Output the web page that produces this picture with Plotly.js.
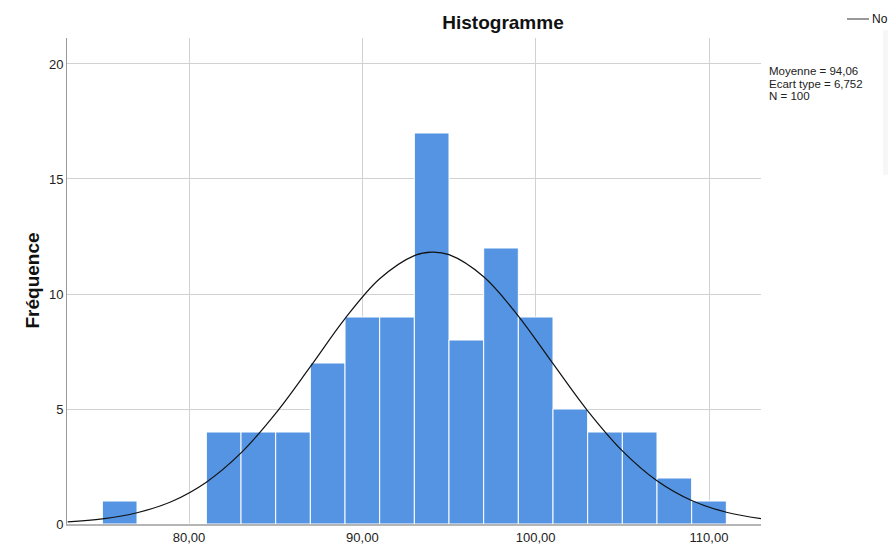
<!DOCTYPE html>
<html>
<head>
<meta charset="utf-8">
<script src="https://cdn.plot.ly/plotly-3.0.1.min.js"></script>
<style>
  html, body { margin: 0; padding: 0; background: #fff; }
  #chart { width: 888px; height: 550px; }
</style>
</head>
<body>
<div id="chart"></div>
<script>
// Histogram bins (centres, width 2) and counts
const binCenters = [76, 78, 80, 82, 84, 86, 88, 90, 92, 94, 96, 98, 100, 102, 104, 106, 108, 110];
const binCounts  = [1, 0, 0, 4, 4, 4, 7, 9, 9, 17, 8, 12, 9, 5, 4, 4, 2, 1];

// Normal curve
const curveX = [73, 75, 77, 79, 81, 83, 85, 87, 89, 91, 93, 94, 95, 97, 99, 101, 103, 105, 107, 109, 111, 113];
const curveY = [0.09, 0.22, 0.49, 0.98, 1.82, 3.09, 4.81, 6.84, 8.93, 10.66, 11.67, 11.82, 11.71, 10.75, 9.04, 6.97, 4.92, 3.18, 1.88, 1.02, 0.51, 0.23];

// Texts
const chartTitle = "Histogramme";
const yTitle = "Fréquence";
const statsLines = ["Moyenne = 94,06", "Ecart type = 6,752", "N = 100"];
const legendLabel = "No";   // legend label as visible (cut by the image edge in the reference)
const xTicks = [80, 90, 100, 110];
const yTicks = [0, 5, 10, 15, 20];

const W = 888, H = 550;
const M = {l: 67, r: 127, t: 38, b: 26};
const PW = W - M.l - M.r, PH = H - M.t - M.b;
const px = x => (x - M.l) / PW;
const py = y => (H - M.b - y) / PH;

const FONT = "Liberation Sans, Arial, Helvetica, sans-serif";

const traces = [
  {
    type: "bar",
    x: binCenters,
    y: binCounts,
    width: 2,
    marker: { color: "rgb(84,148,226)", line: { color: "#ffffff", width: 1 } },
    hoverinfo: "skip",
    showlegend: false
  },
  {
    type: "scatter",
    mode: "lines",
    x: curveX,
    y: curveY,
    line: { color: "#111111", width: 1.2, shape: "spline", smoothing: 1 },
    name: "Normale",
    hoverinfo: "skip",
    showlegend: false
  }
];

const annotations = [
  {
    text: "<b>" + yTitle + "</b>",
    xref: "paper", yref: "paper",
    x: px(19), y: py(280),
    textangle: -90, showarrow: false,
    font: { family: FONT, size: 19, color: "#111" }
  },
  {
    text: legendLabel,
    xref: "paper", yref: "paper",
    x: px(870), y: py(19),
    xanchor: "left", yanchor: "middle", showarrow: false,
    font: { family: FONT, size: 12, color: "#111" }
  }
];
const statsY = [71, 83.5, 96];
statsLines.forEach((t, i) => {
  annotations.push({
    text: t,
    xref: "paper", yref: "paper",
    x: px(767), y: py(statsY[i]),
    xanchor: "left", yanchor: "middle", showarrow: false,
    font: { family: FONT, size: 11.5, color: "#222" }
  });
});

const shapes = [
  {
    type: "rect", xref: "paper", yref: "paper",
    x0: px(883), x1: px(889), y0: py(30), y1: py(175),
    fillcolor: "#f7f7f7", line: { width: 0 }, layer: "below"
  },
  {
    type: "line", xref: "paper", yref: "paper",
    x0: px(847), x1: px(869), y0: py(19), y1: py(19),
    line: { color: "#555555", width: 1.2 }
  }
];

const layout = {
  width: W, height: H,
  margin: M,
  paper_bgcolor: "#ffffff",
  plot_bgcolor: "#ffffff",
  separators: ", ",
  bargap: 0,
  showlegend: false,
  title: {
    text: "<b>" + chartTitle + "</b>",
    x: 503 / W, xref: "container", xanchor: "center",
    y: 1 - 22 / H, yref: "container", yanchor: "middle",
    font: { family: FONT, size: 19, color: "#111" }
  },
  xaxis: {
    range: [72.96, 113.0],
    tickvals: xTicks,
    tickformat: ".2f",
    showgrid: true, gridcolor: "#d2d2d2", gridwidth: 1,
    zeroline: false,
    showline: true, linecolor: "#b5b5b5", linewidth: 2,
    ticks: "",
    tickfont: { family: FONT, size: 13, color: "#222" },
    fixedrange: true
  },
  yaxis: {
    range: [0, 21.13],
    tickvals: yTicks,
    showgrid: true, gridcolor: "#d2d2d2", gridwidth: 1,
    zeroline: false,
    showline: true, linecolor: "#999999", linewidth: 1,
    ticks: "",
    tickfont: { family: FONT, size: 13, color: "#222" },
    fixedrange: true
  },
  annotations: annotations,
  shapes: shapes
};

Plotly.newPlot("chart", traces, layout, { staticPlot: true, displayModeBar: false });
</script>
</body>
</html>
